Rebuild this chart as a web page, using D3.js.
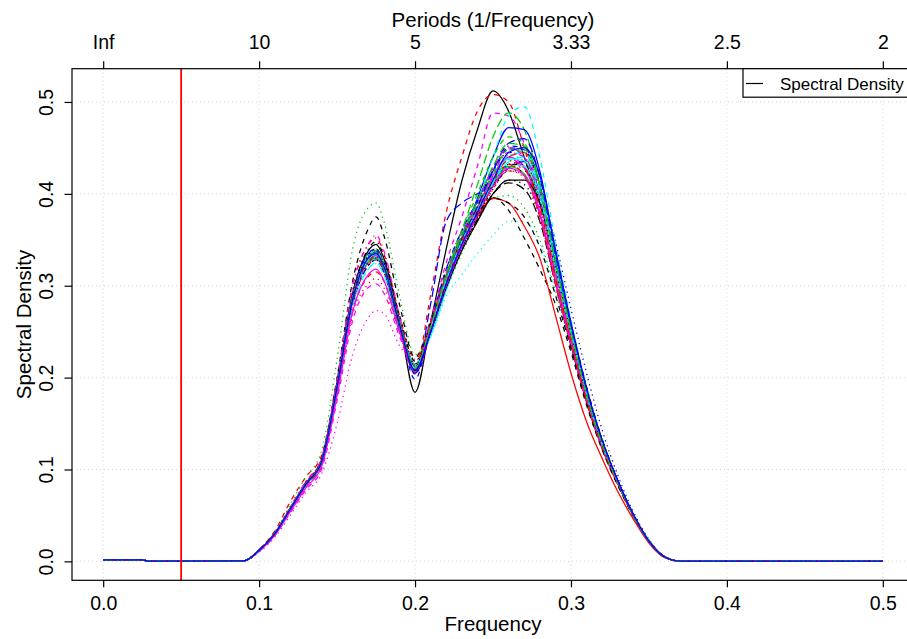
<!DOCTYPE html>
<html>
<head>
<meta charset="utf-8">
<script src="https://cdn.jsdelivr.net/npm/d3@7"></script>
<style>
body { margin: 0; background: #fff; }
svg text { font-family: "Liberation Sans", Arial, sans-serif; fill: #000; }
</style>
</head>
<body>
<script>
//Frequencies where the curves change
freqs = [0.10,0.11,0.12,0.13,0.14,0.15,0.16,0.17,0.175,0.18,0.19,0.20,0.21,0.22,0.23,0.24,0.25,0.26,0.27,0.28,0.29,0.30,0.31,0.32,0.33,0.34,0.35,0.36];
lowTailFreqs = [0, 0.025, 0.03, 0.09];
lowTailVals = [0.0015, 0.0015, 0.0002, 0.0005];
highTailFreqs = [0.37, 0.5];
highTailVals = [0.0003, 0.0003];

//Spectral density x 1000, one row per series (first row = Spectral Density)
densities = [
  [12,30,58,85,110,195,292,338,345,330,262,184,260,340,414,470,512,490,440,390,335,258,185,132,87,50,22,5],
  [13,33,65,92,115,190,280,322,330,316,255,210,290,380,440,490,508,500,450,390,312,240,173,123,84,50,22,5],
  [13,32,62,92,120,220,340,385,390,370,290,225,250,295,335,370,395,398,385,350,295,234,173,122,84,50,22,5],
  [12,30,56,83,106,185,280,322,328,315,255,210,262,318,360,392,425,445,440,400,323,250,184,130,88,51,22,5],
  [11,29,55,82,105,182,275,318,325,312,252,212,250,300,345,380,412,440,445,410,333,258,187,131,88,51,23,5],
  [12,30,57,84,108,188,282,325,330,318,256,205,248,305,350,385,420,440,430,380,305,236,174,124,84,50,22,5],
  [12,31,58,86,112,200,305,362,375,355,280,222,262,315,355,385,396,382,352,318,280,228,170,122,83,49,22,5],
  [11,29,55,81,104,180,268,302,308,298,248,210,248,298,340,372,405,425,420,378,305,236,174,123,84,50,22,5],
  [12,30,57,85,110,192,290,335,340,325,262,212,258,312,355,390,425,448,445,405,326,250,182,128,86,50,22,5],
  [12,31,58,86,111,195,292,335,340,326,262,205,280,370,390,400,410,428,435,400,323,253,187,131,88,51,22,5],
  [12,30,57,84,108,190,288,332,338,322,260,215,245,295,340,378,410,432,430,392,318,246,180,126,86,50,22,5],
  [12,30,57,84,108,190,285,328,335,320,258,210,262,325,375,430,488,485,455,400,320,245,178,126,86,50,22,5],
  [12,30,56,83,106,186,280,322,328,315,255,214,250,300,340,372,400,415,410,375,306,238,175,124,85,50,22,5],
  [13,31,59,87,112,198,300,345,352,335,268,220,258,308,348,378,408,430,428,388,312,240,176,124,85,50,22,5],
  [12,30,57,84,108,190,285,330,336,320,258,208,255,312,360,410,462,488,470,410,323,247,179,126,86,50,22,5],
  [12,30,57,84,108,190,285,328,333,320,258,205,250,305,352,395,440,472,470,425,338,258,187,131,88,51,22,5],
  [12,30,57,84,108,188,282,326,332,318,256,212,252,305,350,392,440,485,495,440,348,263,190,132,88,51,23,5],
  [10,26,50,75,95,150,225,265,273,270,235,218,250,300,345,380,410,432,428,385,310,240,176,124,85,50,22,5],
  [12,30,57,84,108,192,292,340,348,332,268,218,255,305,345,378,410,432,432,398,328,258,190,133,88,51,23,5],
  [12,30,58,86,110,195,290,332,338,322,260,212,258,310,350,380,412,440,445,405,323,247,179,126,86,50,22,5],
  [12,30,57,84,108,190,285,326,330,318,256,208,252,306,348,380,412,430,422,378,306,236,174,124,85,50,22,5],
  [12,30,57,85,109,192,288,332,338,322,258,198,258,318,360,392,425,450,448,408,328,253,184,129,87,51,22,5],
  [12,30,56,82,105,182,275,318,324,312,252,215,245,288,312,335,355,370,370,345,294,234,173,123,84,50,22,5],
  [12,31,59,87,112,198,300,345,355,338,268,210,255,308,352,388,422,445,440,398,320,247,180,126,86,50,22,5],
  [12,30,57,84,108,190,286,330,336,322,260,210,252,302,342,372,400,412,405,370,302,236,174,124,85,50,22,5],
  [12,30,57,84,108,190,285,328,333,320,258,212,255,305,345,375,395,390,365,330,268,205,152,112,76,46,20,4],
  [12,30,57,84,108,190,285,330,336,322,260,206,255,315,360,400,440,462,455,410,326,249,181,127,86,50,22,5],
  [12,30,57,84,108,188,282,325,330,317,256,208,250,302,345,378,410,432,435,405,348,275,205,143,94,54,24,5],
  [12,30,57,84,108,190,286,330,335,320,258,212,250,300,345,382,418,442,445,408,330,254,185,129,87,51,22,5],
  [12,30,57,84,108,190,285,328,333,320,258,210,255,308,350,383,418,438,428,380,305,236,174,124,85,50,22,5],
  [12,30,57,84,108,190,286,330,336,322,260,208,250,298,338,370,400,415,415,390,325,255,185,130,87,51,22,5],
  [12,29,56,82,106,184,272,310,315,305,250,212,260,312,352,385,415,432,420,375,302,236,174,124,85,50,22,5],
  [12,30,57,84,108,190,286,330,337,322,260,212,255,305,348,385,420,442,436,392,314,241,177,125,86,50,22,5],
  [12,30,57,84,108,190,285,327,332,318,256,204,250,308,355,392,428,452,450,410,328,252,182,128,86,50,22,5],
  [12,30,57,84,108,190,287,332,338,323,260,214,252,302,345,378,412,435,440,405,330,254,185,129,87,51,22,5],
  [11,28,54,80,103,180,272,312,318,306,250,210,250,300,342,376,408,428,420,378,305,237,175,124,85,50,22,5],
  [12,30,57,84,108,190,285,328,335,320,258,212,258,310,350,378,395,390,375,342,290,232,172,122,83,49,22,5],
  [12,30,57,85,110,192,288,332,338,324,262,214,256,306,346,378,408,425,418,375,302,236,174,124,85,50,22,5],
  [12,30,57,84,108,190,285,328,334,320,258,210,256,310,352,388,422,448,448,408,328,252,182,128,86,50,22,5],
  [12,30,57,84,108,190,285,330,336,321,258,208,252,306,350,386,425,455,460,418,333,256,186,130,88,51,22,5],
  [12,30,57,84,108,190,285,328,334,320,258,210,254,306,348,382,415,438,436,398,321,249,181,127,86,50,22,5],
  [11,28,53,78,100,175,262,298,302,292,245,208,256,312,356,392,428,450,440,395,315,242,177,125,86,50,22,5],
  [12,30,57,84,108,190,288,333,340,326,262,215,250,298,340,375,405,425,425,392,320,248,181,127,86,50,22,5],
  [12,30,57,84,108,190,284,327,332,318,256,206,252,304,348,382,415,436,428,385,310,240,176,124,85,50,22,5],
  [12,30,57,84,108,190,286,330,336,322,260,210,255,310,355,392,430,455,452,410,328,251,182,128,86,50,22,5],
  [12,30,57,84,108,190,285,330,335,321,258,208,250,302,345,380,415,445,450,420,340,260,189,132,88,51,22,5]
];

xTicks = [0, 0.1, 0.2, 0.3, 0.4, 0.5];
xTickLabels = ["0.0", "0.1", "0.2", "0.3", "0.4", "0.5"];
periodLabels = ["Inf", "10", "5", "3.33", "2.5", "2"];
yTicks = [0, 0.1, 0.2, 0.3, 0.4, 0.5];
yTickLabels = ["0.0", "0.1", "0.2", "0.3", "0.4", "0.5"];
cutoffFreq = 0.05;

//R palette and line types used by matplot
palette = ["#000000", "#FF0000", "#00CD00", "#0000FF", "#00FFFF", "#FF00FF"];
dashes = [null, "5,5", "1.3,4", "1.3,4,5,4", "9,4"];

w = 907;
h = 639;
plot = {left: 72, right: 914, top: 68.7, bottom: 580.3};
fontFam = '"Liberation Sans", Arial, sans-serif';

svg = d3.select("body")
  .append("svg")
    .attr("width", w)
    .attr("height", h);

x = d3.scaleLinear().domain([-0.02, 0.52]).range([plot.left, plot.right]);
y = d3.scaleLinear().domain([-0.0206, 0.5362]).range([plot.bottom, plot.top]);

//Grid
svg.append("g").selectAll("line")
  .data(xTicks).enter().append("line")
    .attr("x1", d => x(d)).attr("x2", d => x(d))
    .attr("y1", plot.top).attr("y2", plot.bottom)
    .attr("stroke", "#D3D3D3").attr("stroke-dasharray", "1,3");
svg.append("g").selectAll("line")
  .data(yTicks).enter().append("line")
    .attr("y1", d => y(d)).attr("y2", d => y(d))
    .attr("x1", plot.left).attr("x2", plot.right)
    .attr("stroke", "#D3D3D3").attr("stroke-dasharray", "1,3");

//Curves
line = d3.line()
  .x(d => x(d[0]))
  .y(d => y(d[1]))
  .curve(d3.curveMonotoneX);

function toPoints(row) {
  var pts = lowTailFreqs.map((f, i) => [f, lowTailVals[i]]);
  row.forEach((v, i) => pts.push([freqs[i], v / 1000]));
  highTailFreqs.forEach((f, i) => pts.push([f, highTailVals[i]]));
  return pts;
}

svg.append("g").selectAll("path")
  .data(densities).enter().append("path")
    .attr("d", d => line(toPoints(d)))
    .attr("fill", "none")
    .attr("stroke", (d, i) => palette[i % 6])
    .attr("stroke-width", 1.25)
    .attr("stroke-dasharray", (d, i) => dashes[i % 5]);

//Cutoff line
svg.append("line")
  .attr("x1", x(cutoffFreq)).attr("x2", x(cutoffFreq))
  .attr("y1", plot.top).attr("y2", plot.bottom)
  .attr("stroke", "#FF0000").attr("stroke-width", 1.8);

//Box
svg.append("rect")
  .attr("x", plot.left).attr("y", plot.top)
  .attr("width", plot.right - plot.left).attr("height", plot.bottom - plot.top)
  .attr("fill", "none").attr("stroke", "#000").attr("stroke-width", 1.2);

//Axes
gx = svg.append("g")
  .attr("transform", "translate(0," + plot.bottom + ")")
  .call(d3.axisBottom(x).tickValues(xTicks).tickSize(7).tickFormat((d, i) => xTickLabels[i]));
gx.select(".domain").remove();
gx.selectAll("text").attr("y", 29.7).attr("dy", null);

gt = svg.append("g")
  .attr("transform", "translate(0," + plot.top + ")")
  .call(d3.axisTop(x).tickValues(xTicks).tickSize(7.5).tickFormat((d, i) => periodLabels[i]));
gt.select(".domain").remove();
gt.selectAll("text").attr("y", -19.7).attr("dy", null);

gy = svg.append("g")
  .attr("transform", "translate(" + plot.left + ",0)")
  .call(d3.axisLeft(y).tickValues(yTicks).tickSize(7.5).tickFormat((d, i) => yTickLabels[i]));
gy.select(".domain").remove();
gy.selectAll("text")
  .attr("x", null).attr("dy", null)
  .attr("text-anchor", "middle")
  .attr("transform", "translate(-19,0) rotate(-90)");

svg.selectAll(".tick line").attr("stroke", "#000").attr("stroke-width", 1.2);
svg.selectAll(".tick text").attr("font-size", 19.5).attr("font-family", fontFam).attr("fill", "#000");

//Titles
svg.append("text")
  .attr("x", (plot.left + plot.right) / 2).attr("y", 631)
  .attr("text-anchor", "middle").attr("font-size", 20.5)
  .text("Frequency");
svg.append("text")
  .attr("x", (plot.left + plot.right) / 2).attr("y", 27)
  .attr("text-anchor", "middle").attr("font-size", 20.5)
  .text("Periods (1/Frequency)");
svg.append("text")
  .attr("transform", "translate(31," + (plot.top + plot.bottom) / 2 + ") rotate(-90)")
  .attr("text-anchor", "middle").attr("font-size", 20.5)
  .text("Spectral Density");

//Legend
legend = svg.append("g");
legend.append("rect")
  .attr("x", 743).attr("y", plot.top)
  .attr("width", plot.right - 743).attr("height", 28.5)
  .attr("fill", "#fff").attr("stroke", "#000").attr("stroke-width", 1.2);
legend.append("line")
  .attr("x1", 746).attr("x2", 763)
  .attr("y1", 83.5).attr("y2", 83.5)
  .attr("stroke", "#000").attr("stroke-width", 1.2);
legend.append("text")
  .attr("x", 780).attr("y", 89.5)
  .attr("font-size", 17)
  .text("Spectral Density");
</script>
</body>
</html>
